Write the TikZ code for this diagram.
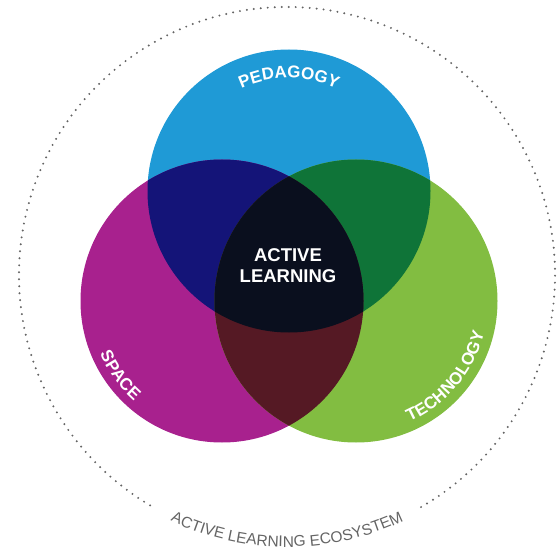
\documentclass[tikz,border=0pt]{standalone}
\usepackage{fontspec}
\setmainfont{Liberation Sans}
\setsansfont{Liberation Sans}
\usepackage{xcolor}
\usepackage{tikz}
\usetikzlibrary{decorations.text}
\definecolor{pedblue}{RGB}{31,154,214}
\definecolor{spamag}{RGB}{168,33,142}
\definecolor{tecgreen}{RGB}{130,189,65}
\definecolor{pedspa}{RGB}{20,20,120}
\definecolor{pedtec}{RGB}{15,116,56}
\definecolor{spatec}{RGB}{85,25,36}
\definecolor{allthree}{RGB}{10,15,30}
\definecolor{ecogray}{RGB}{100,100,100}
\newcommand\lblfont{\fontsize{17}{17}\selectfont\bfseries\color{white}}
\newcommand\ecofont{\fontsize{15.5}{15.5}\selectfont\color{ecogray}}
\tikzset{
    ring/.style = {draw=ecogray, line width=2.2pt, line cap=round, dash pattern=on 0pt off 7pt},
    arclabel/.style = {decorate, decoration={text along path, text align=center, text={#1}}},
    core/.style = {align=center, text=white, font=\fontsize{18.5}{21}\selectfont\bfseries, inner sep=0pt}
}
\begin{document}
\begin{tikzpicture}[x=1pt, y=1pt]
    \useasboundingbox (0,0) rectangle (560,550);
    \def\r{141.5pt}
    \coordinate (eco) at (287,275);
    \coordinate (ped) at (289,359);
    \coordinate (spa) at (222,249);
    \coordinate (tec) at (356,249);
    % the three circles
    \fill[pedblue] (ped) circle (\r);
    \fill[spamag] (spa) circle (\r);
    \fill[tecgreen] (tec) circle (\r);
    % overlaps
    \begin{scope}
        \clip (ped) circle (\r);
        \fill[pedspa] (spa) circle (\r);
        \fill[pedtec] (tec) circle (\r);
    \end{scope}
    \begin{scope}
        \clip (spa) circle (\r);
        \fill[spatec] (tec) circle (\r);
    \end{scope}
    \begin{scope}
        \clip (ped) circle (\r);
        \clip (spa) circle (\r);
        \fill[allthree] (tec) circle (\r);
    \end{scope}
    \node[core] (active) at (288,284) {ACTIVE\\LEARNING};
    % labels along the circles
    \path[arclabel={|\lblfont|PEDAGOGY}] (ped) ++(130:113pt) arc[start angle=130, end angle=50, radius=113pt];
    \path[arclabel={|\lblfont|SPACE}] (spa) ++(176:133pt) arc[start angle=176, end angle=256, radius=133pt];
    \path[arclabel={|\lblfont|TECHNOLOGY}] (tec) ++(-80:132pt) arc[start angle=-80, end angle=0, radius=132pt];
    % ecosystem ring
    \draw[ring] (eco) ++(-60:268pt) arc[start angle=-60, end angle=240, radius=268pt];
    \path[arclabel={|\ecofont|ACTIVE LEARNING ECOSYSTEM}] (eco) ++(-130:272pt) arc[start angle=-130, end angle=-50, radius=272pt];
\end{tikzpicture}
\end{document}
